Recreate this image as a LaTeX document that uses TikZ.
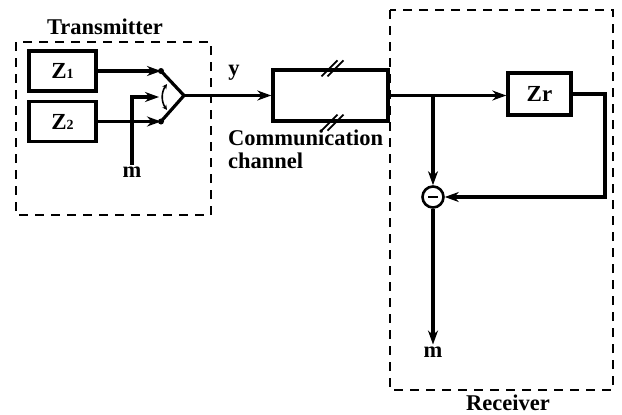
\documentclass[tikz,border=0pt]{standalone}
\usepackage{fontspec}
\setmainfont{Liberation Serif}
\usetikzlibrary{arrows.meta,positioning,calc}
\tikzset{
  ar/.style={-{Stealth[length=14pt,width=10pt]},line width=3.2pt},
  ln/.style={line width=3.2pt},
  blk/.style={draw,line width=3.4pt,minimum width=67pt,minimum height=40pt,inner sep=0pt,font=\fontsize{23}{23}\selectfont\bfseries},
  grp/.style={draw,line width=2.2pt,dash pattern=on 9pt off 7pt},
  lbl/.style={font=\fontsize{22.5}{23}\selectfont\bfseries,inner sep=2pt},
  dotn/.style={circle,fill,inner sep=0pt,minimum size=6pt}
}
\newcommand{\sub}[1]{{\fontsize{14}{14}\selectfont #1}}

\begin{document}
\begin{tikzpicture}[x=1pt,y=-1pt]
\useasboundingbox (0,0) rectangle (622,415);
% transmitter
\draw[grp] (16,42) rectangle (211,215);
\node[lbl] (tx) at (105,27) {Transmitter};
\node[blk] (z1) at (62.5,71) {Z\sub{1}};
\node[blk] (z2) at (62.5,121.5) {Z\sub{2}};
\node[dotn] (s1) at (161,71) {};
\node[dotn] (s2) at (161,121.5) {};
\coordinate (sw) at (184,95.5);
\node[lbl] (m1) at (132,172) {m};
\coordinate (mk) at (132,97);
\coordinate (sm) at (159,97);
\draw[ar] (z1.east) -- (s1.center);
\draw[ar] (z2.east) -- (s2.center);
\draw[ln] (s1.center) -- (sw) -- (s2.center);
\draw[ar] (m1.north) -- (mk) -- (sm);
\draw[{Stealth[length=5pt,width=5pt]}-{Stealth[length=5pt,width=5pt]},line width=1.6pt] (167,84) to[bend right=35] (167,110);
% channel
\node[draw,line width=3.4pt,minimum width=115pt,minimum height=51pt] (ch) at (330.5,95.5) {};
\draw[ar] (sw) -- (ch.west);
\node[lbl] (y) at (234,73) {y};
\draw[line width=1.8pt] ($(ch.north)+(-9,8)$) -- ++(16,-16) ($(ch.north)+(-3,8)$) -- ++(16,-16);
\draw[line width=1.8pt] ($(ch.south)+(-9,8)$) -- ++(16,-16) ($(ch.south)+(-3,8)$) -- ++(16,-16);
\node[lbl,anchor=north west,align=left,inner sep=0pt] (cc) at (228,130) {Communication\\channel};
% receiver
\draw[grp] (390,10) rectangle (613,390);
\node[lbl] (rx) at (508,403) {Receiver};
\node[blk,minimum width=63pt,minimum height=42pt] (zr) at (539.5,94) {Zr};
\node[circle,draw,line width=2.6pt,minimum size=21pt,inner sep=0pt] (sum) at (433,197) {};
\draw[line width=2pt] ($(sum.center)+(-5,0)$) -- ($(sum.center)+(5,0)$);
\coordinate (br) at (433,95.5);
\coordinate (rt) at (605,94);
\draw[ar] (ch.east) -- (zr.west |- ch.east);
\draw[ar] (br) -- (sum.north);
\draw[ar] (zr.east) -- (rt) |- (sum.east);
\node[lbl] (m2) at (433,352) {m};
\draw[ar] (sum.south) -- (m2.north);
\end{tikzpicture}
\end{document}
